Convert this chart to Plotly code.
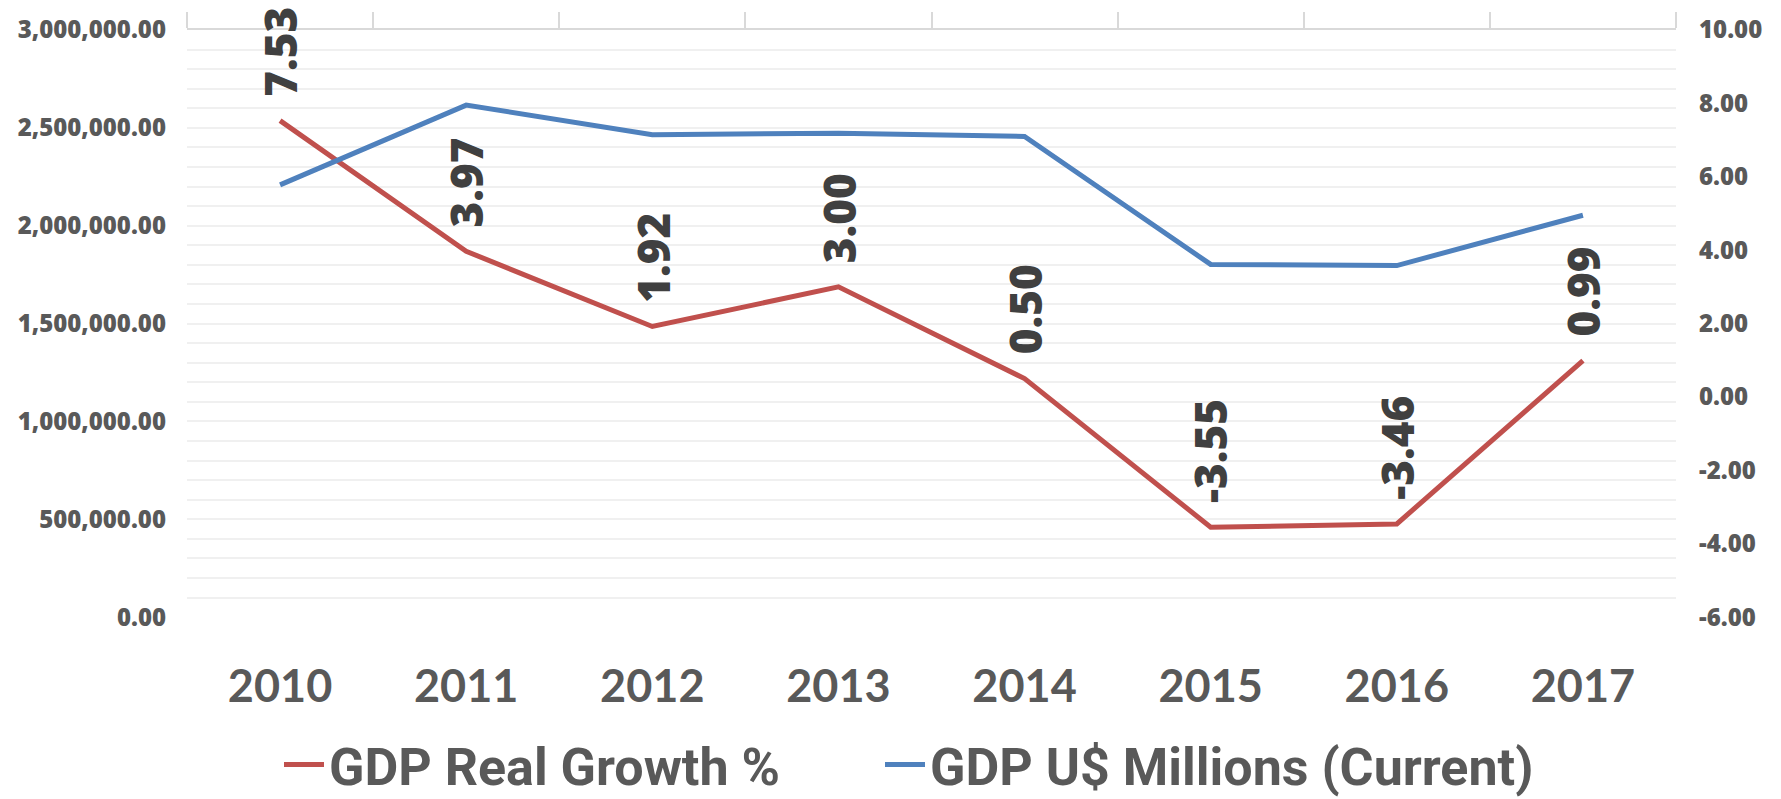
import plotly.graph_objects as go

# Brazil: GDP in current US$ millions and real GDP growth (%)
years = ["2010", "2011", "2012", "2013", "2014", "2015", "2016", "2017"]
gdp_growth = [7.53, 3.97, 1.92, 3.00, 0.50, -3.55, -3.46, 0.99]
gdp_millions = [2208872, 2616202, 2465189, 2472807, 2455994, 1802214, 1796275, 2053595]

growth_ticks = [-6, -4, -2, 0, 2, 4, 6, 8, 10]
growth_tick_labels = [f"{v:.2f}" for v in growth_ticks]
gdp_ticks = [0, 500000, 1000000, 1500000, 2000000, 2500000, 3000000]
gdp_tick_labels = [f"{v:,.2f}" for v in gdp_ticks]

RED = "#C0504D"
BLUE = "#4F81BD"
TEXT = "#595959"
LABEL = "#404040"
GRID = "#F0F0F0"
AXIS = "#D9D9D9"

GDP_MAX = 3000000
minor_grid = list(range(100000, GDP_MAX, 100000))

fig = go.Figure()

fig.add_trace(go.Scatter(
    x=years, y=gdp_growth, name="GDP Real Growth %",
    mode="lines", line=dict(color=RED, width=5),
    xaxis="x", yaxis="y", hoverinfo="skip", legend="legend",
))
fig.add_trace(go.Scatter(
    x=years, y=gdp_millions, name="GDP U$ Millions (Current)",
    mode="lines", line=dict(color=BLUE, width=5),
    xaxis="x", yaxis="y2", hoverinfo="skip", legend="legend2",
))
# empty carriers so the grid axis and the top category axis get drawn
fig.add_trace(go.Scatter(x=years, y=[None] * len(years), xaxis="x", yaxis="y3",
                         showlegend=False, hoverinfo="skip", mode="lines"))
fig.add_trace(go.Scatter(x=years, y=[None] * len(years), xaxis="x2", yaxis="y",
                         showlegend=False, hoverinfo="skip", mode="lines"))

# rotated value labels above the growth line (category index on x)
for i, v in enumerate(gdp_growth):
    fig.add_annotation(
        x=i, y=v, xref="x", yref="y",
        text=f"{v:.2f}", textangle=-90, showarrow=False,
        yanchor="bottom", xanchor="center", yshift=22,
        font=dict(family="Open Sans", size=44, color=LABEL, weight=800),
    )

tick_font = dict(family="Open Sans", size=24, color=TEXT, weight=800)
legend_font = dict(family="Roboto", size=52, color=TEXT, weight="bold")
legend_y = 0.043

fig.update_layout(
    width=1781, height=799,
    margin=dict(l=187, r=105, t=22, b=181),
    paper_bgcolor="white", plot_bgcolor="white",
    showlegend=True,
    legend=dict(
        orientation="h", xref="container", yref="container",
        x=279 / 1781, xanchor="left", y=legend_y, yanchor="middle",
        font=legend_font, itemwidth=40, bgcolor="rgba(0,0,0,0)",
    ),
    legend2=dict(
        orientation="h", xref="container", yref="container",
        x=880 / 1781, xanchor="left", y=legend_y, yanchor="middle",
        font=legend_font, itemwidth=40, bgcolor="rgba(0,0,0,0)",
    ),
    xaxis=dict(
        type="category", categoryorder="array", categoryarray=years,
        range=[-0.5, len(years) - 0.5],
        showline=False, showgrid=False, ticks="", zeroline=False,
        tickfont=dict(family="Lato", size=45, color=TEXT, weight="bold"),
        ticklabelstandoff=39,
    ),
    xaxis2=dict(
        type="category", categoryorder="array", categoryarray=years,
        overlaying="x", side="top",
        range=[-0.5, len(years) - 0.5],
        showline=True, linecolor=AXIS, linewidth=2,
        ticks="outside", tickson="boundaries", ticklen=16,
        tickcolor=AXIS, tickwidth=2,
        showticklabels=False, showgrid=False, zeroline=False,
    ),
    yaxis=dict(
        side="right", range=[-6, 10],
        tickmode="array", tickvals=growth_ticks, ticktext=growth_tick_labels,
        showgrid=False, zeroline=False, showline=False, ticks="",
        tickfont=tick_font, ticklabelstandoff=22,
    ),
    yaxis2=dict(
        side="left", overlaying="y", range=[0, GDP_MAX],
        tickmode="array", tickvals=gdp_ticks, ticktext=gdp_tick_labels,
        showgrid=False, zeroline=False, showline=False, ticks="",
        tickfont=tick_font, ticklabelstandoff=20,
    ),
    yaxis3=dict(
        overlaying="y", range=[0, GDP_MAX],
        tickmode="array", tickvals=minor_grid,
        showgrid=True, gridcolor=GRID, gridwidth=2,
        showticklabels=False, zeroline=False, showline=False, ticks="",
    ),
)

fig.write_html("out.html")
